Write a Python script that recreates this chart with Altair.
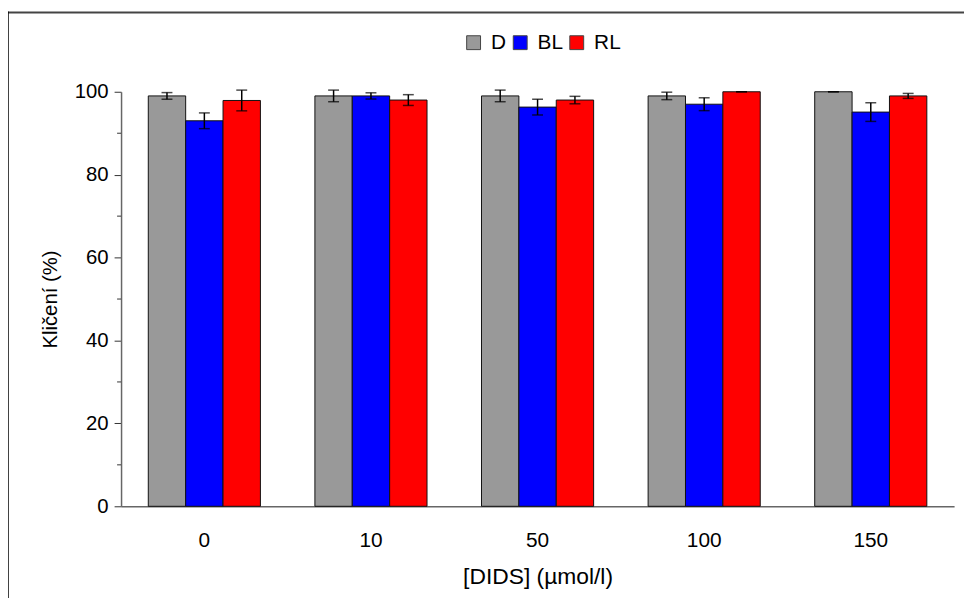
import altair as alt
import pandas as pd

doses = ["0", "10", "50", "100", "150"]
series = ["D", "BL", "RL"]
colors = ["#999999", "#0000ff", "#ff0000"]

d_vals = [99.0, 99.0, 99.0, 99.0, 100.0]
d_err = [0.8, 1.4, 1.4, 0.9, 0.0]
bl_vals = [93.0, 99.0, 96.3, 97.0, 95.1]
bl_err = [1.9, 0.75, 1.9, 1.55, 2.25]
rl_vals = [97.9, 98.0, 98.0, 100.0, 99.0]
rl_err = [2.5, 1.3, 0.9, 0.0, 0.6]

y_major = [0, 20, 40, 60, 80, 100]
y_minor = [10, 30, 50, 70, 90]

rows = []
for i, dose in enumerate(doses):
    for s, vals, errs in (("D", d_vals, d_err), ("BL", bl_vals, bl_err), ("RL", rl_vals, rl_err)):
        rows.append(dict(dose=dose, series=s, value=vals[i],
                         lo=vals[i] - errs[i], hi=vals[i] + errs[i]))
df = pd.DataFrame(rows)

FONT = "Liberation Sans"
AX = "#666666"

xscale = alt.Scale(paddingInner=0.327, paddingOuter=0.1635)
xoff = alt.XOffset("series:N", sort=series, scale=alt.Scale(paddingInner=0, paddingOuter=0))
yscale = alt.Scale(domain=[0, 100], nice=False, zero=True)

bars = alt.Chart(df).mark_bar(stroke="#111111", strokeWidth=1, clip=False).encode(
    x=alt.X("dose:N", sort=doses, scale=xscale,
            axis=alt.Axis(title="[DIDS] (µmol/l)", labelAngle=0, ticks=False,
                          domainColor=AX, domainWidth=1.5, labelPadding=24,
                          titlePadding=15, labelFontSize=21, titleFontSize=23)),
    xOffset=xoff,
    y=alt.Y("value:Q", scale=yscale,
            axis=alt.Axis(values=y_major, title="Kličení (%)", grid=False,
                          tickSize=7, tickColor="#333333", domainColor=AX,
                          domainWidth=1.5, labelPadding=6, titlePadding=14,
                          labelFontSize=20.5, titleFontSize=20.5)),
    color=alt.Color("series:N", sort=series,
                    scale=alt.Scale(domain=series, range=colors),
                    legend=alt.Legend(title=None, orient="none", direction="horizontal",
                                      legendX=345, legendY=-60, padding=0,
                                      symbolType="square", symbolSize=196,
                                      symbolStrokeColor="#444444", symbolStrokeWidth=1,
                                      symbolOpacity=1, labelFontSize=21,
                                      labelFont=FONT, labelColor="#000000",
                                      labelOffset=7, columnPadding=3,
                                      gridAlign="none")),
)

err = alt.Chart(df).mark_rule(color="#000000", strokeWidth=1.5, clip=False).encode(
    x=alt.X("dose:N", sort=doses, scale=xscale),
    xOffset=xoff,
    y=alt.Y("lo:Q", scale=yscale),
    y2="hi:Q",
)
cap_lo = alt.Chart(df).mark_tick(color="#000000", size=11, thickness=1.5, clip=False).encode(
    x=alt.X("dose:N", sort=doses, scale=xscale),
    xOffset=xoff,
    y=alt.Y("lo:Q", scale=yscale),
)
cap_hi = alt.Chart(df).mark_tick(color="#000000", size=11, thickness=1.5, clip=False).encode(
    x=alt.X("dose:N", sort=doses, scale=xscale),
    xOffset=xoff,
    y=alt.Y("hi:Q", scale=yscale),
)

minor = alt.Chart(pd.DataFrame({"v": y_minor})).mark_rule(color="#333333", strokeWidth=1).encode(
    x=alt.value(-4), x2=alt.value(0),
    y=alt.Y("v:Q", scale=yscale),
)

frame_top = alt.Chart(alt.Data(values=[{}])).mark_rule(color="#444444", strokeWidth=2, clip=False).encode(
    x=alt.value(-115), x2=alt.value(860), y=alt.value(-80),
)
frame_left = alt.Chart(alt.Data(values=[{}])).mark_rule(color="#000000", strokeWidth=1.5, clip=False).encode(
    x=alt.value(-114), y=alt.value(-81), y2=alt.value(520),
)

chart = alt.layer(bars, err, cap_lo, cap_hi, minor, frame_top, frame_left).properties(
    width=840, height=418,
    autosize=alt.AutoSizeParams(type="none"),
    padding={"left": 114, "top": 82, "right": 10, "bottom": 90},
).configure_view(stroke=None).configure_axis(
    labelFont=FONT, titleFont=FONT,
    labelColor="#000000", titleColor="#000000", titleFontWeight="normal",
)

chart.save("out.html", embed_options={"renderer": "svg", "actions": False})
